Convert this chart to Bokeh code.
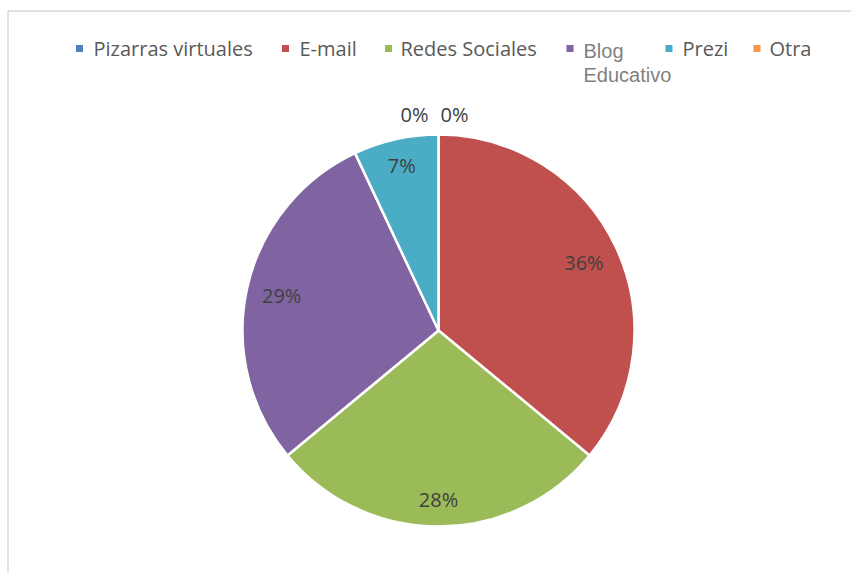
import numpy as np
from bokeh.plotting import figure
from bokeh.models import Range1d, ColumnDataSource
from bokeh.embed import file_html
from bokeh.resources import INLINE
from bokeh.core.properties import value

# ---- data ----
categories = ["Pizarras virtuales", "E-mail", "Redes Sociales", "Blog Educativo", "Prezi", "Otra"]
percents = [0, 36, 28, 29, 7, 0]
colors = ["#4F81BD", "#C0504D", "#9BBB59", "#8064A2", "#4BACC6", "#F79646"]

# ---- layout ----
W, H = 851, 572
def X(px):
    return px
def Y(py):
    return H - py

CX, CY, R = X(438), Y(330), 196
label_r = [1.1, 0.82, 0.86, 0.82, 0.86, 1.1]
zero_dx = [16, 0, 0, 0, 0, -24]
legend_sq_x = [79, 285, 388, 569.5, 668.5, 756.5]
legend_tx_x = [93, 299, 400, 583, 682, 769]

p = figure(width=W, height=H, x_range=Range1d(0, W), y_range=Range1d(0, H),
           output_backend="svg", toolbar_location=None, min_border=0,
           x_axis_type=None, y_axis_type=None)
p.grid.visible = False
p.outline_line_color = None
p.background_fill_color = "white"
p.border_fill_color = "white"

# chart area border (extends past right/bottom like the reference)
p.quad(left=[X(7.5)], right=[W + 50], bottom=[-50], top=[Y(10.5)],
       fill_color=None, line_color="#d9d9d9", line_width=1.5)

total = float(sum(percents))
fr = np.array(percents, dtype=float) / total
cum = np.concatenate([[0.0], np.cumsum(fr)])
start = np.pi / 2 - 2 * np.pi * cum[:-1]
end = np.pi / 2 - 2 * np.pi * cum[1:]

nz = [i for i in range(len(categories)) if percents[i] > 0]
wsrc = ColumnDataSource(dict(
    start=[start[i] for i in nz], end=[end[i] for i in nz],
    color=[colors[i] for i in nz]))
p.wedge(x=CX, y=CY, radius=R, start_angle="start", end_angle="end",
        direction="clock", fill_color="color", line_color="white",
        line_width=2.5, source=wsrc)

# percentage labels
lx, ly, lt = [], [], []
for i, v in enumerate(percents):
    mid = np.pi / 2 - 2 * np.pi * (cum[i] + cum[i + 1]) / 2
    rr = label_r[i] * R
    lx.append(CX + rr * np.cos(mid) + zero_dx[i])
    ly.append(CY + rr * np.sin(mid))
    lt.append(f"{round(v / total * 100):d}%")
p.text(x=lx, y=ly, text=lt, text_font=value("Open Sans"), text_font_size="20px",
       text_color="#404040", text_align="center", text_baseline="middle")

# legend
p.rect(x=[X(v) for v in legend_sq_x], y=[Y(48)] * len(categories), width=7, height=7,
       fill_color=colors, line_color=None)
for i, c in enumerate(categories):
    if c == "Blog Educativo":
        parts = c.split(" ")
        p.text(x=[X(legend_tx_x[i])] * 2, y=[Y(50), Y(74)], text=parts,
               text_font=value("Liberation Sans"), text_font_size="20px",
               text_color="#7f7f7f", text_baseline="middle")
    else:
        p.text(x=[X(legend_tx_x[i])], y=[Y(48)], text=[c],
               text_font=value("Open Sans"), text_font_size="20px",
               text_color="#595959", text_baseline="middle")

open("out.html", "w").write(file_html(p, INLINE))
